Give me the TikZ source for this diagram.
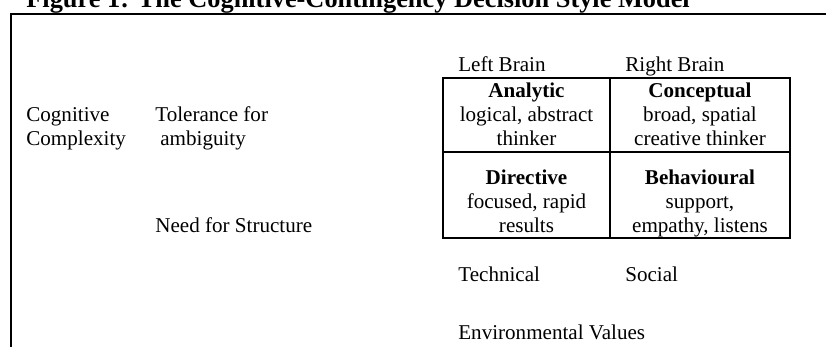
\documentclass[tikz,border=0pt]{standalone}
\usepackage{fontspec}
\setmainfont{Liberation Serif}
\begin{document}
\begin{tikzpicture}[x=0.02cm,y=-0.02cm,
	lbl/.style={anchor=base west,inner sep=0pt,font=\fontsize{12}{14}\selectfont},
	cell/.style={anchor=base,inner sep=0pt,font=\fontsize{12}{14}\selectfont},
	head/.style={cell,font=\fontsize{12}{14}\selectfont\bfseries}]
				\useasboundingbox (0,0) rectangle (826,346);
				\clip (0,0) rectangle (826,346);
				\node[anchor=base west,inner sep=0pt,font=\fontsize{15}{18}\selectfont\bfseries] (title) at (26,7) {Figure 1: The Cognitive-Contingency Decision Style Model};
				\draw[line width=0.04cm] (11,350) -- (11,13.5) -- (830,13.5);
				% the four styles
				\draw[line width=0.04cm] (443,77.5) rectangle (790,237.5);
				\draw[line width=0.04cm] (610,77.5) -- (610,237.5);
				\draw[line width=0.04cm] (443,151.5) -- (790,151.5);
				\node[head] (ana) at (526.5,97) {Analytic};
				\node[cell] (ana1) at (526.5,121) {logical, abstract};
				\node[cell] (ana2) at (526.5,145) {thinker};
				\node[head] (con) at (700,97) {Conceptual};
				\node[cell] (con1) at (700,121) {broad, spatial};
				\node[cell] (con2) at (700,145) {creative thinker};
				\node[head] (dir) at (526.5,184) {Directive};
				\node[cell] (dir1) at (526.5,208) {focused, rapid};
				\node[cell] (dir2) at (526.5,232) {results};
				\node[head] (beh) at (700,184) {Behavioural};
				\node[cell] (beh1) at (700,208) {support,};
				\node[cell] (beh2) at (700,232) {empathy, listens};
				% labels round the grid
				\node[lbl] (left) at (458,71) {Left Brain};
				\node[lbl] (right) at (625,71) {Right Brain};
				\node[lbl] (cog1) at (26,121) {Cognitive};
				\node[lbl] (cog2) at (26,145) {Complexity};
				\node[lbl] (tol1) at (155,121) {Tolerance for};
				\node[lbl] (tol2) at (160,145) {ambiguity};
				\node[lbl] (need) at (155,232) {Need for Structure};
				\node[lbl] (tech) at (458,281) {Technical};
				\node[lbl] (soc) at (625,281) {Social};
				\node[lbl] (env) at (458,339) {Environmental Values};
			\end{tikzpicture}
\end{document}
